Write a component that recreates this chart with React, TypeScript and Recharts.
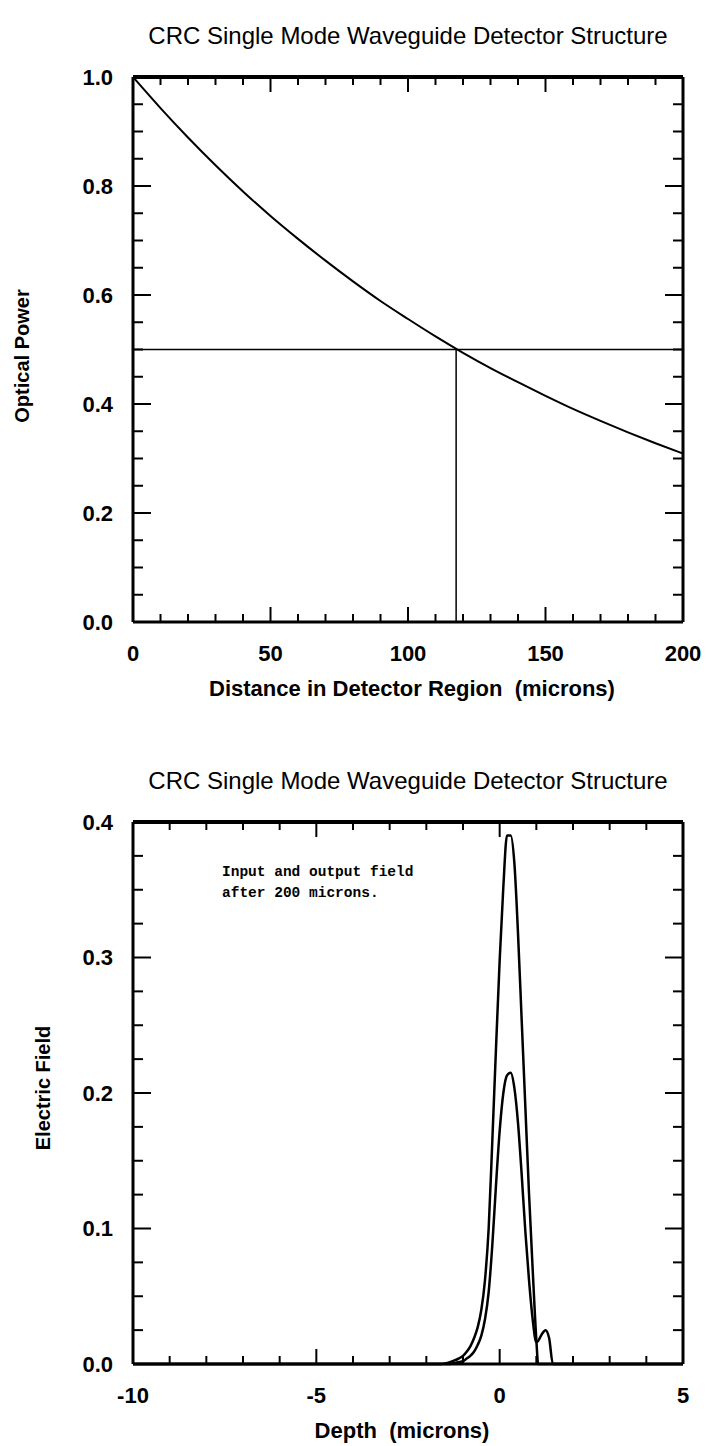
import { LineChart, Line, XAxis, YAxis, ReferenceLine } from "recharts"

// top plot: power along the detector
const distanceMicrons = [0, 10, 20, 30, 40, 50, 60, 70, 80, 90, 100, 110, 120, 130, 140, 150, 160, 170, 180, 190, 200]
const opticalPower = [1.0, 0.943, 0.889, 0.838, 0.79, 0.745, 0.703, 0.663, 0.625, 0.589, 0.556, 0.524, 0.494, 0.466, 0.44, 0.415, 0.391, 0.369, 0.348, 0.328, 0.309]
const HALF_POWER = 0.5
const HALF_DISTANCE = 117.5

const distanceTicks = [0, 10, 20, 30, 40, 50, 60, 70, 80, 90, 100, 110, 120, 130, 140, 150, 160, 170, 180, 190, 200]
const distanceLabels = [0, 50, 100, 150, 200]
const powerTicks = [0, 0.05, 0.1, 0.15, 0.2, 0.25, 0.3, 0.35, 0.4, 0.45, 0.5, 0.55, 0.6, 0.65, 0.7, 0.75, 0.8, 0.85, 0.9, 0.95, 1.0]
const powerLabels = [0, 0.2, 0.4, 0.6, 0.8, 1.0]

// bottom plot: field profile across depth
const depthMicrons = [-10, -2, -1.6, -1.4, -1.2, -1.0, -0.9, -0.8, -0.7, -0.6, -0.5, -0.4, -0.3, -0.2, -0.1, 0.0, 0.1, 0.2, 0.3, 0.4, 0.5, 0.6, 0.7, 0.8, 0.9, 1.0, 1.05, 1.15, 1.25, 1.35, 1.45, 5]
const inputField = [0, 0, 0, 0.001, 0.003, 0.006, 0.009, 0.013, 0.019, 0.027, 0.04, 0.062, 0.1, 0.165, 0.233, 0.298, 0.352, 0.39, 0.39, 0.37, 0.318, 0.254, 0.19, 0.126, 0.07, 0.018, 0, 0, 0, 0, 0, 0]
const outputField = [0, 0, 0, 0, 0.001, 0.002, 0.004, 0.006, 0.009, 0.014, 0.021, 0.033, 0.053, 0.088, 0.132, 0.172, 0.2, 0.213, 0.215, 0.204, 0.178, 0.14, 0.098, 0.062, 0.033, 0.016, 0.017, 0.022, 0.025, 0.019, 0, 0]

const depthTicks = [-10, -9, -8, -7, -6, -5, -4, -3, -2, -1, 0, 1, 2, 3, 4, 5]
const depthLabels = [-10, -5, 0, 5]
const fieldTicks = [0, 0.025, 0.05, 0.075, 0.1, 0.125, 0.15, 0.175, 0.2, 0.225, 0.25, 0.275, 0.3, 0.325, 0.35, 0.375, 0.4]
const fieldLabels = [0, 0.1, 0.2, 0.3, 0.4]

const powerData = distanceMicrons.map((d, i) => ({ d, p: opticalPower[i] }))
const fieldData = depthMicrons.map((d, i) => ({ d, input: inputField[i], output: outputField[i] }))

const SANS = "'Liberation Sans', Arial, Helvetica, sans-serif"
const INK = "#000"

type Side = "bottom" | "top" | "left" | "right"

function makeTick(side: Side, labels: number[], fmt: (v: number) => string, major: number, minor: number) {
    return (props: any) => {
        const { x, y, payload } = props
        const v = Number(payload.value)
        const isMajor = labels.some((l) => Math.abs(l - v) < 1e-9)
        const len = isMajor ? major : minor
        let line
        let label = null
        if (side === "bottom") {
            line = <line x1={x} x2={x} y1={y} y2={y - len} />
            if (isMajor)
                label = (
                    <text x={x} y={y + 31} textAnchor="middle" dominantBaseline="central">
                        {fmt(v)}
                    </text>
                )
        } else if (side === "top") {
            line = <line x1={x} x2={x} y1={y} y2={y + len} />
        } else if (side === "left") {
            line = <line x1={x} x2={x + len} y1={y} y2={y} />
            if (isMajor)
                label = (
                    <text x={x - 20} y={y} textAnchor="end" dominantBaseline="central">
                        {fmt(v)}
                    </text>
                )
        } else {
            line = <line x1={x} x2={x - len} y1={y} y2={y} />
        }
        return (
            <g>
                <g stroke={INK} strokeWidth={2}>{line}</g>
                {label && (
                    <g fill={INK} style={{ fontFamily: SANS, fontSize: 22, fontWeight: 700 }}>
                        {label}
                    </g>
                )}
            </g>
        )
    }
}

const axisLine = { stroke: INK, strokeWidth: 3 }
const oneDecimal = (v: number) => v.toFixed(1)
const integer = (v: number) => String(Math.round(v))

function PowerChart() {
    return (
        <LineChart width={706} height={720} data={powerData} margin={{ top: 0, right: 0, bottom: 0, left: 0 }}>
            <XAxis xAxisId="b" dataKey="d" type="number" domain={[0, 200]} ticks={distanceTicks} interval={0}
                height={98} axisLine={axisLine} tickLine={false} tickSize={0} tickMargin={0}
                tick={makeTick("bottom", distanceLabels, integer, 15, 8)} />
            <XAxis xAxisId="t" dataKey="d" type="number" orientation="top" domain={[0, 200]} ticks={distanceTicks} interval={0}
                height={77} axisLine={{ stroke: INK, strokeWidth: 4 }} tickLine={false} tickSize={0} tickMargin={0}
                tick={makeTick("top", distanceLabels, integer, 15, 8)} />
            <YAxis yAxisId="l" type="number" domain={[0, 1]} ticks={powerTicks} interval={0}
                width={133} axisLine={axisLine} tickLine={false} tickSize={0} tickMargin={0}
                tick={makeTick("left", powerLabels, oneDecimal, 18, 10)} />
            <YAxis yAxisId="r" type="number" orientation="right" domain={[0, 1]} ticks={powerTicks} interval={0}
                width={23} axisLine={axisLine} tickLine={false} tickSize={0} tickMargin={0}
                tick={makeTick("right", powerLabels, oneDecimal, 18, 10)} />
            <ReferenceLine xAxisId="b" yAxisId="l" y={HALF_POWER} stroke={INK} strokeWidth={1.5} />
            <ReferenceLine xAxisId="b" yAxisId="l" stroke={INK} strokeWidth={1.5}
                segment={[{ x: HALF_DISTANCE, y: 0 }, { x: HALF_DISTANCE, y: HALF_POWER }]} />
            <Line xAxisId="b" yAxisId="l" dataKey="p" type="monotone" stroke={INK} strokeWidth={2}
                dot={false} activeDot={false} isAnimationActive={false} />
            <Line xAxisId="t" yAxisId="r" dataKey="p" stroke="none" dot={false} activeDot={false}
                legendType="none" isAnimationActive={false} />
        </LineChart>
    )
}

function FieldChart() {
    return (
        <LineChart width={706} height={701} data={fieldData} margin={{ top: 0, right: 0, bottom: 0, left: 0 }}>
            <XAxis xAxisId="b" dataKey="d" type="number" domain={[-10, 5]} ticks={depthTicks} interval={0}
                height={82} axisLine={axisLine} tickLine={false} tickSize={0} tickMargin={0}
                tick={makeTick("bottom", depthLabels, integer, 15, 8)} />
            <XAxis xAxisId="t" dataKey="d" type="number" orientation="top" domain={[-10, 5]} ticks={depthTicks} interval={0}
                height={77} axisLine={{ stroke: INK, strokeWidth: 4 }} tickLine={false} tickSize={0} tickMargin={0}
                tick={makeTick("top", depthLabels, integer, 15, 8)} />
            <YAxis yAxisId="l" type="number" domain={[0, 0.4]} ticks={fieldTicks} interval={0}
                width={133} axisLine={axisLine} tickLine={false} tickSize={0} tickMargin={0}
                tick={makeTick("left", fieldLabels, oneDecimal, 18, 10)} />
            <YAxis yAxisId="r" type="number" orientation="right" domain={[0, 0.4]} ticks={fieldTicks} interval={0}
                width={23} axisLine={axisLine} tickLine={false} tickSize={0} tickMargin={0}
                tick={makeTick("right", fieldLabels, oneDecimal, 18, 10)} />
            <Line xAxisId="b" yAxisId="l" dataKey="input" type="monotone" stroke={INK} strokeWidth={2.5}
                dot={false} activeDot={false} isAnimationActive={false} />
            <Line xAxisId="b" yAxisId="l" dataKey="output" type="monotone" stroke={INK} strokeWidth={2.5}
                dot={false} activeDot={false} isAnimationActive={false} />
            <Line xAxisId="t" yAxisId="r" dataKey="input" stroke="none" dot={false} activeDot={false}
                legendType="none" isAnimationActive={false} />
        </LineChart>
    )
}

export default function App() {
    const title = "CRC Single Mode Waveguide Detector Structure"
    return (
        <div style={{ position: "absolute", left: 0, top: 0, width: 706, height: 1446, background: "#fff" }}>
            <div style={{ position: "absolute", left: 0, top: 0 }}>
                <PowerChart />
            </div>
            <div style={{ position: "absolute", left: 0, top: 745 }}>
                <FieldChart />
            </div>
            <svg width={706} height={1446} style={{ position: "absolute", left: 0, top: 0, pointerEvents: "none" }}>
                <g fill={INK} style={{ fontFamily: SANS }}>
                    <text x={408} y={35} fontSize={24} textAnchor="middle" dominantBaseline="central">{title}</text>
                    <text x={412} y={688} fontSize={22} fontWeight={700} textAnchor="middle" dominantBaseline="central">
                        {"Distance in Detector Region\u00a0 (microns)"}
                    </text>
                    <text x={22} y={356} fontSize={20} fontWeight={700} textAnchor="middle" dominantBaseline="central"
                        transform="rotate(-90 22 356)">Optical Power</text>
                    <text x={408} y={780} fontSize={24} textAnchor="middle" dominantBaseline="central">{title}</text>
                    <text x={43} y={1088} fontSize={20} fontWeight={700} textAnchor="middle" dominantBaseline="central"
                        transform="rotate(-90 43 1088)">Electric Field</text>
                    <text x={402} y={1430} fontSize={22} fontWeight={700} textAnchor="middle" dominantBaseline="central">
                        {"Depth\u00a0 (microns)"}
                    </text>
                </g>
                <g fill={INK} style={{ fontFamily: "'Liberation Mono', 'Courier New', monospace", fontSize: 14.5, fontWeight: 700 }}>
                    <text x={222} y={872} dominantBaseline="central">Input and output field</text>
                    <text x={222} y={893} dominantBaseline="central">after 200 microns.</text>
                </g>
            </svg>
        </div>
    )
}
